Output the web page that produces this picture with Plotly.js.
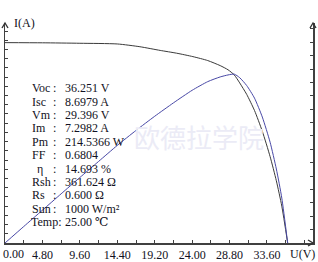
<!DOCTYPE html>
<html>
<head>
<meta charset="utf-8">
<script src="https://cdn.plot.ly/plotly-3.0.1.min.js"></script>
<style>
  html, body { margin: 0; padding: 0; background: #ffffff; }
  #chart { width: 318px; height: 262px; }
</style>
</head>
<body>
<div id="chart"></div>
<script>
// I-V curve (voltage in V, current in A)
const ivVolts = [0, 4.8, 9.6, 14.4, 17.3, 19.9, 22.0, 24.1, 26.0, 27.6, 28.6, 29.396, 30.1, 31.0, 32.0, 33.0, 34.0, 34.8, 35.5, 36.251];
const ivAmps  = [8.6979, 8.69, 8.67, 8.64, 8.52, 8.36, 8.24, 8.09, 7.92, 7.70, 7.52, 7.2982, 6.95, 6.45, 5.75, 4.85, 3.75, 2.70, 1.60, 0];

// P-V curve (voltage in V, power in W)
const pvVolts = [0, 2.4, 4.8, 7.2, 9.6, 12.0, 14.4, 16.8, 19.2, 21.6, 24.0, 26.0, 27.6, 28.6, 29.396, 30.1, 31.0, 32.0, 33.0, 34.0, 34.8, 35.5, 36.251];
const pvWatts = [0, 20.9, 41.7, 62.5, 83.2, 103.6, 124, 143, 161, 178, 194, 205, 211, 213.5, 214.5366, 210, 200, 184, 160, 128, 94, 57, 0];

// x tick labels (every 2.4 V tick, labels on every other one)
const xTickLabels = ["0.00", "", "4.80", "", "9.60", "", "14.40", "", "19.20", "", "24.00", "", "28.80", "", "33.60", "", ""];

// Measurement readout
const statLabels = ["Voc", "Isc", "Vm", "Im", "Pm", "FF", "η", "Rsh", "Rs", "Sun", "Temp"];
const statValues = ["36.251 V", "8.6979 A", "29.396 V", "7.2982 A", "214.5366 W", "0.6804", "14.693 %", "361.624 Ω", "0.600 Ω", "1000 W/m²", "25.00 ℃"];

const watermark = "欧德拉学院";

// ---- layout helpers (pixel -> paper) ----
const W = 318, H = 262, ML = 5, MR = 5, MT = 23, MB = 19;
const PW = W - ML - MR, PH = H - MT - MB;
const px = x => (x - ML) / PW;
const py = y => (H - MB - y) / PH;

const tickVals = xTickLabels.map((_, i) => +(i * 2.4).toFixed(2));
// first label is drawn as an annotation so it stays inside the picture
const tickText = xTickLabels.map((t, i) => (i === 0 ? "" : t));

const textColor = '#111122';
const serif = 'Liberation Serif, DejaVu Serif, serif';

const traces = [
  {
    x: ivVolts, y: ivAmps, type: 'scatter', mode: 'lines',
    line: { color: '#3a3a3a', width: 1, shape: 'spline', smoothing: 0.6 },
    xaxis: 'x', yaxis: 'y', hoverinfo: 'skip'
  },
  {
    x: pvVolts, y: pvWatts, type: 'scatter', mode: 'lines',
    line: { color: '#4848a6', width: 1, shape: 'spline', smoothing: 0.6 },
    xaxis: 'x', yaxis: 'y2', hoverinfo: 'skip'
  }
];

const annotations = [];

// watermark (drawn first, underneath)
annotations.push({
  xref: 'paper', yref: 'paper', x: px(199), y: py(136), xanchor: 'center', yanchor: 'middle',
  text: watermark, showarrow: false,
  font: { family: 'Noto Sans CJK SC, sans-serif', size: 26, color: '#ebebf6' }
});

const rowY0 = 88.3, rowDY = 13.38;
statLabels.forEach((lab, i) => {
  const y = py(rowY0 + i * rowDY);
  const isTemp = lab === 'Temp';
  const lx = lab === 'η' ? 35 : (isTemp ? 29 : 30);
  annotations.push({
    xref: 'paper', yref: 'paper', x: px(lx), y: y, xanchor: 'left', yanchor: 'middle',
    text: isTemp ? lab + ':' : lab, showarrow: false,
    font: { family: serif, size: 12, color: textColor }
  });
  if (!isTemp) {
    annotations.push({
      xref: 'paper', yref: 'paper', x: px(54), y: y, xanchor: 'center', yanchor: 'middle',
      text: ':', showarrow: false,
      font: { family: serif, size: 12, color: textColor }
    });
  }
  annotations.push({
    xref: 'paper', yref: 'paper', x: px(63), y: y, xanchor: 'left', yanchor: 'middle',
    text: statValues[i], showarrow: false,
    font: { family: serif, size: 12, color: textColor }
  });
});

// axis titles
annotations.push({
  xref: 'paper', yref: 'paper', x: px(12), y: py(23), xanchor: 'left', yanchor: 'middle',
  text: 'I(A)', showarrow: false, font: { family: serif, size: 12, color: textColor }
});
annotations.push({
  xref: 'paper', yref: 'paper', x: px(317), y: py(254), xanchor: 'right', yanchor: 'middle',
  text: 'U(V)', showarrow: false, font: { family: serif, size: 12, color: textColor }
});
// first x tick label at the axis origin
annotations.push({
  xref: 'paper', yref: 'paper', x: px(0.5), y: py(254), xanchor: 'left', yanchor: 'middle',
  text: xTickLabels[0], showarrow: false, font: { family: serif, size: 12, color: textColor }
});

// open arrow heads at the ends of the axes (pixel-sized shapes)
const arrowLine = { color: '#333333', width: 1.4 };
const shapes = [
  { type: 'path', xref: 'paper', yref: 'paper', xsizemode: 'pixel', ysizemode: 'pixel',
    xanchor: 0, yanchor: 1, path: 'M-3,-5 L0,0 L3,-5', line: arrowLine },
  { type: 'path', xref: 'paper', yref: 'paper', xsizemode: 'pixel', ysizemode: 'pixel',
    xanchor: 1, yanchor: 1, path: 'M-3,-5 L0,0 L3,-5', line: arrowLine },
  { type: 'path', xref: 'paper', yref: 'paper', xsizemode: 'pixel', ysizemode: 'pixel',
    xanchor: 1, yanchor: 0, path: 'M-5,3 L0,0 L-5,-3', line: arrowLine }
];

const layout = {
  width: W, height: H,
  margin: { l: ML, r: MR, t: MT, b: MB, pad: 0 },
  paper_bgcolor: '#ffffff', plot_bgcolor: '#ffffff',
  showlegend: false,
  xaxis: {
    range: [0, 39.5], showgrid: false, zeroline: false,
    showline: true, linecolor: '#404040', linewidth: 1.5,
    ticks: 'inside', ticklen: 3, tickcolor: '#404040', tickwidth: 1,
    tickmode: 'array', tickvals: tickVals, ticktext: tickText,
    tickfont: { family: serif, size: 12, color: textColor },
    automargin: false, fixedrange: true
  },
  yaxis: {
    range: [0, 9.55], showgrid: false, zeroline: false,
    showline: true, linecolor: '#404040', linewidth: 1.5,
    ticks: 'inside', ticklen: 3, tickcolor: '#404040', tickwidth: 1,
    dtick: 0.4, tick0: 0, showticklabels: false,
    automargin: false, fixedrange: true
  },
  yaxis2: {
    overlaying: 'y', side: 'right',
    range: [0, 279.5], showgrid: false, zeroline: false,
    showline: true, linecolor: '#404040', linewidth: 1.5,
    ticks: 'inside', ticklen: 3, tickcolor: '#404040', tickwidth: 1,
    dtick: 17, tick0: 0, showticklabels: false,
    automargin: false, fixedrange: true
  },
  shapes: shapes,
  annotations: annotations
};

Plotly.newPlot('chart', traces, layout, { staticPlot: true, displayModeBar: false });
</script>
</body>
</html>
